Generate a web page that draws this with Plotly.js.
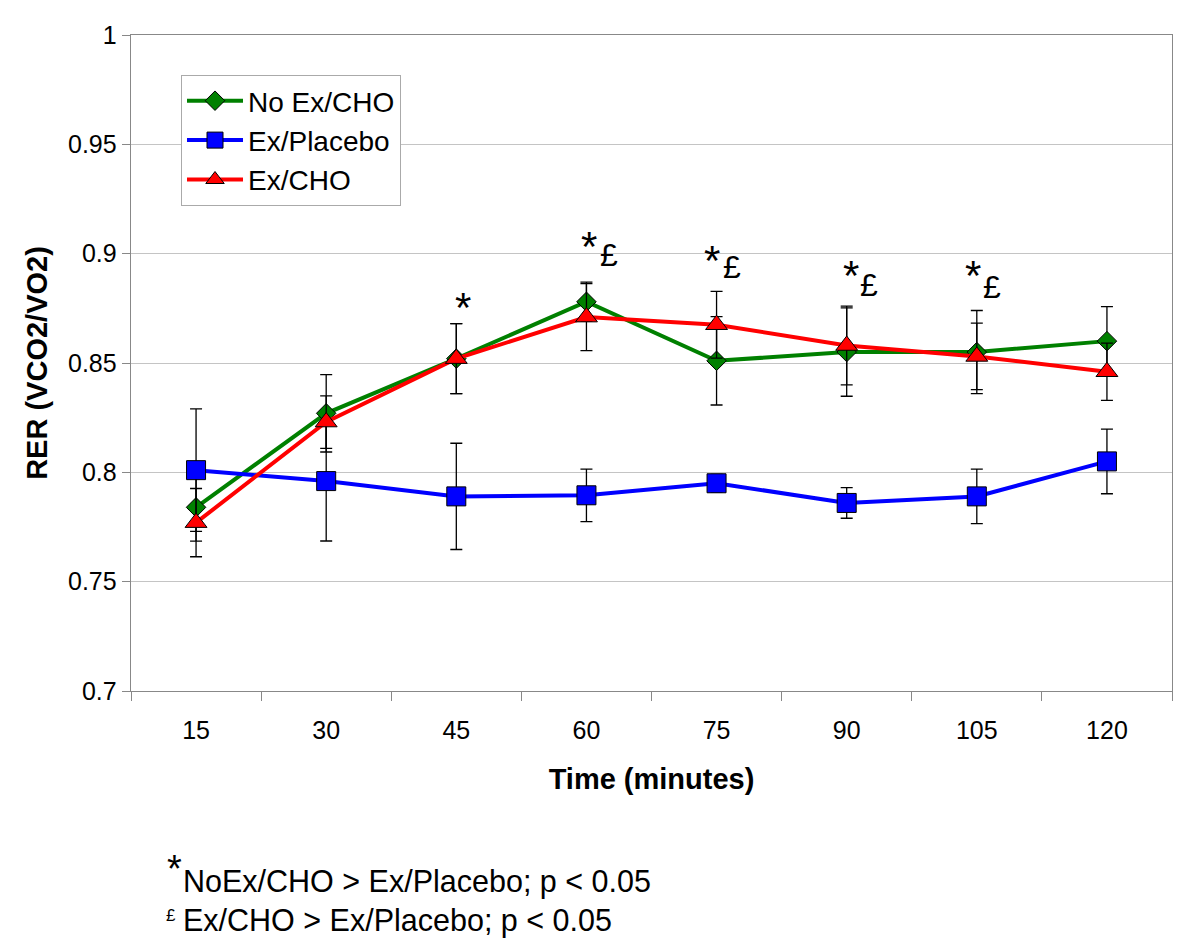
<!DOCTYPE html>
<html>
<head>
<meta charset="utf-8">
<script src="https://cdn.plot.ly/plotly-3.0.1.min.js"></script>
<style>
  html, body { margin: 0; padding: 0; background: #fff; }
  #chart { width: 1200px; height: 951px; }
</style>
</head>
<body>
<div id="chart"></div>
<script>
// ---- data ----
const times = ['15', '30', '45', '60', '75', '90', '105', '120'];
const noExCHO = [0.784, 0.827, 0.852, 0.878, 0.851, 0.855, 0.855, 0.860];
const noExCHOErr = [0.0155, 0.0177, 0.016, 0.009, 0.0202, 0.0202, 0.019, 0.0158];
const exPlacebo = [0.801, 0.796, 0.789, 0.7895, 0.795, 0.786, 0.789, 0.805];
const exPlaceboErr = [0.028, 0.0274, 0.0243, 0.012, 0.004, 0.007, 0.0125, 0.0148];
const exCHO = [0.777, 0.823, 0.852, 0.871, 0.8675, 0.858, 0.853, 0.846];
const exCHOErr = [0.0156, 0.012, 0.016, 0.0153, 0.0153, 0.018, 0.0152, 0.0131];
const starTimes = ['45', '60', '75', '90', '105'];
const poundTimes = ['60', '75', '90', '105'];
const seriesNames = ['No Ex/CHO', 'Ex/Placebo', 'Ex/CHO'];
const footnote1 = 'NoEx/CHO &gt; Ex/Placebo; p &lt; 0.05';
const footnote2 = 'Ex/CHO &gt; Ex/Placebo; p &lt; 0.05';

// ---- layout helpers ----
const FONT = 'Arial, "Liberation Sans", sans-serif';
const M = { l: 131, r: 28, t: 35, b: 260 };
const plotH = 951 - M.t - M.b;
const pyToPaper = py => (951 - M.b - py) / plotH;
const pxToPaper = px => (px - M.l) / (1200 - M.l - M.r);

function errBar(arr) {
  return { type: 'data', array: arr, visible: true, color: '#000', thickness: 1.3, width: 6 };
}

const traces = [
  {
    x: times, y: noExCHO, name: seriesNames[0], type: 'scatter', mode: 'lines+markers',
    line: { color: '#008000', width: 4 },
    marker: { symbol: 'diamond', size: 15, color: '#008000', line: { color: '#000', width: 1 } },
    error_y: errBar(noExCHOErr)
  },
  {
    x: times, y: exPlacebo, name: seriesNames[1], type: 'scatter', mode: 'lines+markers',
    line: { color: '#0000ff', width: 4 },
    marker: { symbol: 'square', size: 19, color: '#0000ff', line: { color: '#000', width: 1 } },
    error_y: errBar(exPlaceboErr)
  },
  {
    x: times, y: exCHO, name: seriesNames[2], type: 'scatter', mode: 'lines+markers',
    line: { color: '#ff0000', width: 4 },
    marker: { symbol: 'triangle-up', size: 19, color: '#ff0000', line: { color: '#000', width: 1 } },
    error_y: errBar(exCHOErr)
  }
];

// significance label placement (pixel offsets / heights)
const starPos = { '45': [7, 300], '60': [3, 240], '75': [-5, 253], '90': [4, 268], '105': [-4, 268] };
const poundPos = { '60': [23, 255], '75': [15, 267], '90': [22, 285], '105': [15, 287] };

const annotations = [];
starTimes.forEach(t => {
  const p = starPos[t];
  annotations.push({
    x: times.indexOf(t), xref: 'x', xshift: p[0], y: pyToPaper(p[1] + 7), yref: 'paper',
    text: '*', showarrow: false, xanchor: 'center', yanchor: 'middle',
    font: { family: FONT, size: 42, color: '#000' }
  });
});
poundTimes.forEach(t => {
  const p = poundPos[t];
  annotations.push({
    x: times.indexOf(t), xref: 'x', xshift: p[0], y: pyToPaper(p[1]), yref: 'paper',
    text: '£', showarrow: false, xanchor: 'center', yanchor: 'middle',
    font: { family: FONT, size: 32, color: '#000' }
  });
});
// footnotes
annotations.push({
  x: pxToPaper(165), xref: 'paper', y: pyToPaper(869), yref: 'paper',
  text: '*', showarrow: false, xanchor: 'left', yanchor: 'middle',
  font: { family: FONT, size: 38, color: '#000' }
});
annotations.push({
  x: pxToPaper(181), xref: 'paper', y: pyToPaper(881), yref: 'paper',
  text: footnote1, showarrow: false, xanchor: 'left', yanchor: 'middle',
  font: { family: FONT, size: 30.5, color: '#000' }
});
annotations.push({
  x: pxToPaper(164), xref: 'paper', y: pyToPaper(915), yref: 'paper',
  text: '£', showarrow: false, xanchor: 'left', yanchor: 'middle',
  font: { family: FONT, size: 17, color: '#000' }
});
annotations.push({
  x: pxToPaper(181), xref: 'paper', y: pyToPaper(920), yref: 'paper',
  text: footnote2, showarrow: false, xanchor: 'left', yanchor: 'middle',
  font: { family: FONT, size: 30.5, color: '#000' }
});

const layout = {
  width: 1200, height: 951,
  margin: M,
  paper_bgcolor: '#fff', plot_bgcolor: '#fff',
  font: { family: FONT, color: '#000' },
  showlegend: true,
  legend: {
    x: pxToPaper(181), y: pyToPaper(75), xanchor: 'left', yanchor: 'top',
    bgcolor: '#fff', bordercolor: '#aaa', borderwidth: 1,
    font: { family: FONT, size: 28, color: '#000' },
    itemwidth: 56, tracegroupgap: 0
  },
  xaxis: {
    type: 'category', categoryorder: 'array', categoryarray: times,
    range: [-0.5, times.length - 0.5],
    showline: true, linecolor: '#888', linewidth: 1.3, mirror: true,
    showgrid: false, zeroline: false,
    ticks: 'outside', tickson: 'boundaries', ticklen: 9, tickcolor: '#888', tickwidth: 1,
    tickfont: { family: FONT, size: 25, color: '#000' },
    ticklabelstandoff: 17,
    title: { text: '<b>Time (minutes)</b>', font: { family: FONT, size: 29, color: '#000' }, standoff: 25 },
    fixedrange: true
  },
  yaxis: {
    range: [0.7, 1], dtick: 0.05, tick0: 0.7,
    showline: true, linecolor: '#888', linewidth: 1.3, mirror: true,
    showgrid: true, gridcolor: '#c4c4c4', gridwidth: 1, zeroline: false,
    ticks: 'outside', ticklen: 8, tickcolor: '#888', tickwidth: 1,
    tickfont: { family: FONT, size: 25, color: '#000' },
    title: { text: '<b>RER (VCO2/VO2)</b>', font: { family: FONT, size: 29, color: '#000' }, standoff: 12 },
    fixedrange: true
  },
  annotations: annotations
};

Plotly.newPlot('chart', traces, layout, { displayModeBar: false, staticPlot: true });
</script>
</body>
</html>
